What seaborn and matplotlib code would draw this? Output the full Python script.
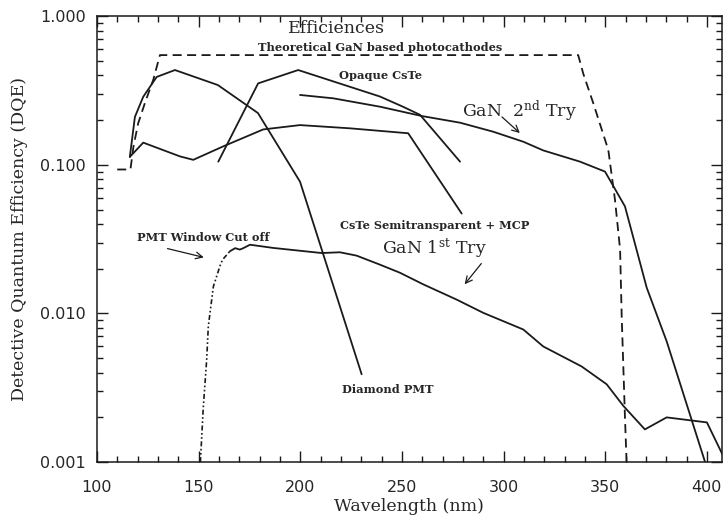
import matplotlib
matplotlib.use("Agg")
import matplotlib.pyplot as plt
import seaborn as sns
from matplotlib.ticker import FixedLocator, LogLocator, MultipleLocator, NullFormatter

# values (wavelength in nm, DQE)
theory_wl = [110, 116.5, 118, 120.3, 123.6, 127.7, 131, 336.7, 339.2, 344.1, 351.5,
             354.8, 357.3, 358.1, 359.7, 360.5]
theory_dqe = [0.093, 0.093, 0.133, 0.19, 0.26, 0.372, 0.547, 0.547, 0.41, 0.26, 0.126,
              0.058, 0.027, 0.0095, 0.002, 0.001]

diamond_wl = [116.2, 118.7, 122.8, 129.4, 138.4, 159.5, 179.2, 199.9, 230.2]
diamond_dqe = [0.113, 0.21, 0.287, 0.39, 0.434, 0.344, 0.223, 0.077, 0.0039]

cste_semi_wl = [116.2, 122.8, 140.8, 147.4, 162.1, 181.8, 199.9, 224.4, 253.1, 279.4]
cste_semi_dqe = [0.113, 0.141, 0.114, 0.108, 0.133, 0.173, 0.185, 0.176, 0.163, 0.047]

opaque_wl = [159.7, 179.3, 199, 239.2, 250.5, 258.9, 278.6]
opaque_dqe = [0.105, 0.353, 0.434, 0.288, 0.246, 0.217, 0.105]

gan2_wl = [199.9, 216.3, 239.2, 259.7, 278.6, 294.9, 309.7, 319.5, 337.6, 349.9, 359.7,
           370.4, 380.2, 399.1]
gan2_dqe = [0.295, 0.28, 0.246, 0.213, 0.192, 0.167, 0.143, 0.125, 0.105, 0.090, 0.0525,
            0.0149, 0.0065, 0.001]

pmt_cut_wl = [150.9, 152.3, 154, 154.8, 157.3, 160.5, 161.8, 165.4]
pmt_cut_dqe = [0.001, 0.0023, 0.0049, 0.0082, 0.0152, 0.0208, 0.023, 0.0262]

gan1_wl = [165.4, 168, 170.3, 172, 175.3, 186.7, 210.5, 219.5, 227.7, 239.2, 249, 260.5,
           276.9, 290, 309.7, 319.5, 338.4, 350.7, 358.9, 369.5, 380.2, 400, 408]
gan1_dqe = [0.0262, 0.0275, 0.0269, 0.0275, 0.029, 0.0276, 0.0255, 0.0258, 0.0245, 0.0213,
            0.0188, 0.0157, 0.0124, 0.0101, 0.0078, 0.006, 0.0044, 0.00334, 0.00239,
            0.00166, 0.002, 0.00185, 0.0011]

y_ticks = [0.001, 0.01, 0.1, 1.0]
y_labels = ["0.001", "0.010", "0.100", "1.000"]

sns.set_theme(style="ticks")
plt.rcParams['font.family'] = ['DejaVu Serif']
plt.rcParams['mathtext.fontset'] = 'dejavuserif'

fig = plt.figure(figsize=(7.23, 5.21), dpi=100)
ax = fig.add_axes([0.134, 0.113, 0.864, 0.856])
ax.set_yscale('log')

lw = 1.3
sns.lineplot(x=theory_wl, y=theory_dqe, ax=ax, color='k', lw=lw, estimator=None,
             sort=False, linestyle=(0, (5, 3)))
for wl, dqe in [(diamond_wl, diamond_dqe), (cste_semi_wl, cste_semi_dqe),
                (opaque_wl, opaque_dqe), (gan2_wl, gan2_dqe), (gan1_wl, gan1_dqe)]:
    sns.lineplot(x=wl, y=dqe, ax=ax, color='k', lw=lw, estimator=None, sort=False)
sns.lineplot(x=pmt_cut_wl, y=pmt_cut_dqe, ax=ax, color='k', lw=1.2, estimator=None,
             sort=False, linestyle=(0, (3, 1.5, 1, 1.5, 1, 1.5)))

ax.set_xlim(100, 407.2)
ax.set_ylim(0.001, 1.0)

ax.xaxis.set_major_locator(MultipleLocator(50))
ax.xaxis.set_minor_locator(MultipleLocator(10))
ax.yaxis.set_major_locator(FixedLocator(y_ticks))
ax.set_yticklabels(y_labels)
ax.yaxis.set_minor_locator(LogLocator(base=10, subs=range(2, 10)))
ax.yaxis.set_minor_formatter(NullFormatter())
ax.tick_params(which='both', direction='in', top=True, right=True, color='k',
               labelsize=11.5, width=1.0)
ax.tick_params(which='major', length=8)
ax.tick_params(which='minor', length=4)
ax.tick_params(axis='x', which='major', pad=13)
ax.tick_params(axis='y', which='major', pad=8)
for lab in ax.get_xticklabels() + ax.get_yticklabels():
    lab.set_family('DejaVu Sans')
for sp in ax.spines.values():
    sp.set_color('k')
    sp.set_linewidth(1.1)

ax.set_xlabel('Wavelength (nm)', fontsize=12.5, labelpad=2)
ax.set_ylabel('Detective Quantum Efficiency (DQE)', fontsize=12.5, labelpad=9)

ax.text(194, 0.83, 'Efficiences', fontsize=12.5, va='center', ha='left')
ax.text(179.2, 0.62, 'Theoretical GaN based photocathodes', fontsize=8.2,
        fontweight='bold', va='center', ha='left')
ax.text(219, 0.40, 'Opaque CsTe', fontsize=8.2, fontweight='bold', va='center', ha='left')
ax.text(279.5, 0.227, 'GaN  2$^{\\rm nd}$ Try', fontsize=12.5, va='center', ha='left')
ax.text(219.5, 0.0389, 'CsTe Semitransparent + MCP', fontsize=8.2, fontweight='bold',
        va='center', ha='left')
ax.text(240.2, 0.0277, 'GaN 1$^{\\rm st}$ Try', fontsize=12.5, va='center', ha='left')
ax.text(119.7, 0.0324, 'PMT Window Cut off', fontsize=8.2, fontweight='bold',
        va='center', ha='left')
ax.text(220.5, 0.0031, 'Diamond PMT', fontsize=8.2, fontweight='bold', va='center', ha='left')

arrow = dict(arrowstyle='->', color='k', lw=0.9)
ax.annotate('', xy=(309, 0.159), xytext=(298.2, 0.216), arrowprops=arrow)
ax.annotate('', xy=(280, 0.0152), xytext=(289.9, 0.0224), arrowprops=arrow)
ax.annotate('', xy=(153.9, 0.0236), xytext=(133.4, 0.0276), arrowprops=arrow)

fig.savefig('out.png', dpi=100)
